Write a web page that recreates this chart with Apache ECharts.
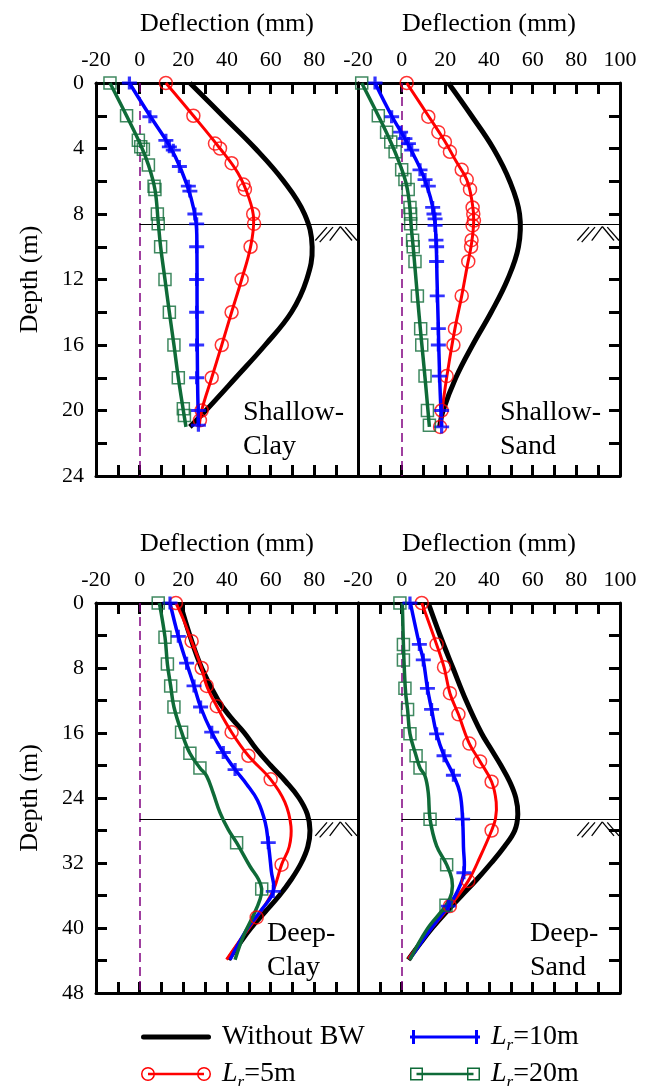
<!DOCTYPE html>
<html><head><meta charset="utf-8">
<script src="https://cdn.jsdelivr.net/npm/echarts@6/dist/echarts.min.js"></script>
<style>html,body{margin:0;padding:0;background:#fff}#c{width:650px;height:1086px}</style>
</head><body><div id="c"></div>
<script>
// ---------- DATA: [deflection (mm), depth (m)] ----------
const SERIES_NAMES = ['Without BW', 'Lr=5m', 'Lr=10m', 'Lr=20m'];
const PANEL_LABELS = ['Shallow-\nClay', 'Shallow-\nSand', 'Deep-\nClay', 'Deep-\nSand'];
const X_TICKS = [-20, 0, 20, 40, 60, 80, 100];
const DEPTH_MAX = [24, 24, 48, 48];
const EXCAVATION_DEPTH = [8.6, 8.6, 26.6, 26.6];

// Shallow-Clay
const SC_black = [[23,0],[38,2],[53,4],[66,6],[75.5,8],[79,10],[76.5,12],[69.5,14],[57.5,16],[44,18],[30.3,20],[23,21]];
const SC_r5_line = [[12,0],[24.6,2],[36.8,4],[45,5.5],[50,7],[52.2,8.3],[50.8,10],[46.7,12],[42.1,14],[37.6,16],[33,18],[28.4,20],[27.3,21]];
const SC_r5_pts = [[12,0],[24.6,2],[34.5,3.7],[36.8,4],[42.1,4.9],[47.5,6.2],[48.2,6.5],[52,8],[52.4,8.6],[50.8,10],[46.7,12],[42.1,14],[37.6,16],[33,18],[28.4,20],[27.6,20.6]];
const SC_b10_line = [[-4.7,0],[4.7,2],[13.5,3.8],[19,5.3],[23.5,7],[25.8,8.5],[26.2,10],[26.3,14],[26.5,18],[26.9,21]];
const SC_b10_pts = [[-4.7,0],[4.7,2.06],[12,3.5],[13.6,3.9],[15.4,4.1],[18.2,5.1],[22.3,6.3],[23,6.6],[25.3,8],[26.1,8.6],[26.1,10],[26.1,12],[26.1,14],[26.1,16],[26.1,18],[26.9,20],[26.9,20.9]];
const SC_g20_line = [[-13.6,0],[-6,2],[0.5,3.8],[4,5],[7,6.5],[8.5,8.5],[9.6,10],[11.6,12],[13.6,14],[15.7,16],[17.7,18],[20,20],[21.2,21]];
const SC_g20_pts = [[-13.6,0],[-6,2],[-0.6,3.5],[0.5,3.9],[1.7,4.05],[4,5],[6.6,6.3],[7,6.5],[8.1,8],[8.5,8.6],[9.6,10],[11.6,12],[13.6,14],[15.7,16],[17.7,18],[20,19.9],[20.5,20.3]];

// Shallow-Sand
const SS_black = [[21.4,0],[32,2],[42,4],[49.5,6],[54,8],[53.5,10],[48.5,12],[41,14],[32.5,16],[24.8,18],[19,20],[17.4,21]];
const SS_r5_line = [[2.3,0],[12.2,2],[19.5,3.5],[25,4.8],[29.8,5.9],[32.3,7.3],[33,8.4],[32,9.8],[30,11.2],[27.5,13],[24.4,15],[21.8,17],[19.5,19],[17.6,21]];
const SS_r5_pts = [[2.3,0],[12.2,2.06],[16.8,3],[19.8,3.6],[22.1,4.2],[27.5,5.3],[29.8,5.9],[31.3,6.5],[32.5,7.6],[32.8,8],[33.1,8.4],[32.5,8.7],[32,9.6],[31.8,10],[30.5,10.9],[27.5,13],[24.4,15],[23.7,16],[20.6,17.9],[18.3,20],[17.6,21]];
const SS_b10_line = [[-12.2,0],[-4.6,2],[1.5,3.4],[5.5,4.4],[10,5.7],[13.2,7],[15,8.2],[15.8,9.8],[16.2,12],[16.8,15],[17.4,18],[18.3,21]];
const SS_b10_pts = [[-12.2,0],[-4.6,2.06],[-0.5,3],[1.5,3.4],[3.1,3.7],[4.6,4.1],[8.4,5.3],[10.7,5.9],[12.2,6.3],[14.2,7.6],[14.8,8],[15.3,8.3],[15.3,8.7],[15.7,9.6],[16,10],[16,10.9],[16.3,13],[16.8,15],[16.8,16],[17.3,17.9],[18.3,20],[18.3,21]];
const SS_g20_line = [[-18.3,0],[-10.7,2],[-5,3.6],[-1,4.9],[2,6.1],[3.6,7.4],[4.4,8.8],[5.4,10.2],[7.2,13],[8.9,15.5],[10.7,18],[12.7,21]];
const SS_g20_pts = [[-18.3,0],[-10.7,2],[-6.9,3],[-5,3.6],[-3,4.2],[0,5.3],[1.5,5.9],[3,6.5],[3.8,7.6],[4.1,8],[4.1,8.6],[5,9.6],[5.3,10],[6.1,10.9],[7.2,13],[8.7,15],[9.2,16],[10.7,17.9],[11.8,20],[12.7,20.9]];

// Deep-Clay
const DC_black = [[18.5,0],[23,4],[28.4,8],[36,12],[41.5,14],[48,16],[53.5,18],[60,20],[67,22],[73,24],[76.8,26],[78,28],[77,30],[74,32],[69.5,34],[64,36],[57.5,38],[51,40],[45.5,42],[40.6,43.9]];
const DC_r5_line = [[16.6,0],[20,2],[23.8,4.7],[28.4,8],[30.7,10.2],[35.3,12.7],[42.1,15.9],[49.8,18.8],[60,21.7],[66.5,24.5],[69.3,27.5],[68.5,30],[65,32.2],[61,35.5],[53.6,38.7],[46,41.5],[39.8,43.9]];
const DC_r5_pts = [[16.6,0],[23.8,4.7],[28.4,8],[30.7,10.2],[35.3,12.7],[42.1,15.9],[49.8,18.8],[60,21.7],[65,32.2],[53.6,38.7]];
const DC_b10_line = [[13.9,0],[17.7,4.1],[21.5,7.4],[24.9,10.2],[27.9,12.8],[33,15.9],[38.3,18.4],[43.7,20.5],[49,22.3],[54,24.3],[57.5,27],[58.9,29.5],[60.3,33],[61.2,35.5],[56,37.7],[49,40.2],[41.4,43.9]];
const DC_b10_pts = [[13.9,0],[17.7,4.1],[21.5,7.4],[24.9,10.2],[27.9,12.8],[33,15.9],[38.3,18.4],[43.7,20.5],[58.9,29.5],[61.2,35.5]];
const DC_g20_line = [[9,0],[11.6,4.2],[12.7,7.5],[14.2,10.2],[15.7,12.8],[19.2,15.9],[23,18.5],[27.6,20.3],[30.7,21.3],[33.7,23.4],[36.8,25.8],[40.6,27.9],[44.4,29.5],[50.5,32.4],[54.4,34],[55.9,35.2],[55.1,36.5],[52,38.5],[47.5,41],[43.7,43.9]];
const DC_g20_pts = [[8.5,0],[11.6,4.2],[12.7,7.5],[14.2,10.2],[15.7,12.8],[19.2,15.9],[23,18.5],[27.6,20.3],[44.4,29.5],[55.9,35.2]];

// Deep-Sand
const DS_black = [[12.2,0],[17.6,4],[23.5,8],[29.5,12],[36.5,16],[41,18],[45.5,20],[49.5,22],[52.3,24],[53.2,26],[51.8,28],[47,30],[41,32],[34.5,34],[27.5,36],[20.5,38],[14,40],[8.2,42],[3,43.9]];
const DS_r5_line = [[9.2,0],[16,5.1],[19.4,7.9],[22.1,11.1],[26,13.7],[31,17.3],[35.9,19.5],[41.2,22],[43.3,24.5],[43,26.5],[41.2,28],[36,31.2],[30.5,34.2],[22.1,37.3],[12,40.6],[3,43.8]];
const DS_r5_pts = [[9.2,0],[16,5.1],[19.4,7.9],[22.1,11.1],[26,13.7],[31,17.3],[35.9,19.5],[41.2,22],[41.2,28],[30.5,34.2],[22.1,37.3]];
const DS_b10_line = [[4,0],[8.1,5.1],[9.9,7],[11.8,10.5],[13.7,13.1],[16,16.1],[19.4,18.8],[23.7,21.2],[26.7,23.4],[27.9,26.6],[28.3,30],[28.5,33.2],[25.5,35.5],[21.4,37.3],[12,40.6],[3.8,43.8]];
const DS_b10_pts = [[3.8,0],[8.1,5.1],[9.9,7],[11.8,10.5],[13.7,13.1],[16,16.1],[19.4,18.8],[23.7,21.2],[27.9,26.6],[28.5,33.2],[21.4,37.3]];
const DS_g20_line = [[0.3,0],[0.8,5.1],[1.2,8],[1.8,11],[2.7,13.1],[3.8,16.1],[6.6,18.8],[8.4,20.3],[10.7,21.3],[12.2,23.4],[13,26.6],[16,29.9],[20.6,32.2],[23,34],[22.9,35.7],[20.3,37.2],[11.5,40.2],[3.8,43.9]];
const DS_g20_pts = [[-0.8,0],[0.8,5.1],[0.8,7],[1.5,10.5],[2.7,13.1],[3.8,16.1],[6.6,18.8],[8.4,20.3],[13,26.6],[20.6,32.2],[20.3,37.2]];

// ---------- STYLE / LAYOUT ----------
const FONT = 'Liberation Serif';
const C_BLACK = '#000000', C_RED = '#ff0000', C_BLUE = '#0000ff', C_GREEN = '#0f6b38', C_PURPLE = '#800080';
const grids = [
  {left: 96, top: 83, width: 262, height: 393},
  {left: 358, top: 83, width: 262, height: 393},
  {left: 96, top: 603, width: 262, height: 390},
  {left: 358, top: 603, width: 262, height: 390}
];
const panels = [
  {black: SC_black, r: [SC_r5_line, SC_r5_pts], b: [SC_b10_line, SC_b10_pts], g: [SC_g20_line, SC_g20_pts]},
  {black: SS_black, r: [SS_r5_line, SS_r5_pts], b: [SS_b10_line, SS_b10_pts], g: [SS_g20_line, SS_g20_pts]},
  {black: DC_black, r: [DC_r5_line, DC_r5_pts], b: [DC_b10_line, DC_b10_pts], g: [DC_g20_line, DC_g20_pts]},
  {black: DS_black, r: [DS_r5_line, DS_r5_pts], b: [DS_b10_line, DS_b10_pts], g: [DS_g20_line, DS_g20_pts]}
];
const labelPos = [[243, 396], [500, 396], [267, 917], [530, 917]];
const legendPos = [[141, 1023], [141, 1060], [410, 1023], [410, 1060]];

const axisLineStyle = {show: true, onZero: false, lineStyle: {color: C_BLACK, width: 3}};
const tickOn = {show: true, inside: true, length: 11, lineStyle: {color: C_BLACK, width: 3}};

const xAxes = [], yAxes = [], series = [];
grids.forEach((g, i) => {
  const isLeft = (i % 2 === 0);
  const ymax = DEPTH_MAX[i];
  const yStep = ymax / 12;
  const labelStep = ymax / 6;
  xAxes.push({
    gridIndex: i, type: 'value', position: 'top', min: X_TICKS[0], max: X_TICKS[X_TICKS.length - 1], interval: 10,
    axisLine: axisLineStyle, axisTick: tickOn, splitLine: {show: false},
    axisLabel: {show: true, margin: 12, color: C_BLACK, fontFamily: FONT, fontSize: 22, showMinLabel: true, showMaxLabel: true,
      formatter: v => (X_TICKS.indexOf(v) >= 0 && !(isLeft && v === 100)) ? String(v) : ''},
    name: 'Deflection (mm)', nameLocation: 'middle', nameGap: 46, nameMoveOverlap: false,
    nameTextStyle: {color: C_BLACK, fontFamily: FONT, fontSize: 26}
  });
  yAxes.push({
    gridIndex: i, type: 'value', position: isLeft ? 'left' : 'right', inverse: true, min: 0, max: ymax, interval: yStep,
    axisLine: axisLineStyle, axisTick: tickOn, splitLine: {show: false},
    axisLabel: isLeft ? {show: true, margin: 12, color: C_BLACK, fontFamily: FONT, fontSize: 22, showMinLabel: true, showMaxLabel: true,
      formatter: v => (Math.abs(v % labelStep) < 1e-9) ? String(v) : ''} : {show: false},
    name: isLeft ? 'Depth (m)' : '', nameLocation: 'middle', nameGap: 53, nameMoveOverlap: false,
    nameTextStyle: {color: C_BLACK, fontFamily: FONT, fontSize: 26}
  });
});
grids.forEach((g, i) => {
  const isLeft = (i % 2 === 0);
  const ymax = DEPTH_MAX[i];
  xAxes.push({
    gridIndex: i, type: 'value', position: 'bottom', min: X_TICKS[0], max: X_TICKS[X_TICKS.length - 1], interval: 10,
    axisLine: axisLineStyle, axisTick: tickOn, axisLabel: {show: false}, splitLine: {show: false}
  });
  yAxes.push({
    gridIndex: i, type: 'value', position: isLeft ? 'right' : 'left', inverse: true, min: 0, max: ymax, interval: ymax / 12,
    axisLine: axisLineStyle, axisTick: {show: false}, axisLabel: {show: false}, splitLine: {show: false}
  });
});

const HATCH = [[-42.7,16.7,-31,3.3],[-38.3,18.3,-25,3.3],[-28.3,16.7,-17.7,2.7],[-17.7,2.7,-6,16.7],[-12.7,3.3,-1,16.7]];

// smooth curve drawn through the data points, positioned by the axes (api.coord)
function curveSeries(name, pts, grid, color, width, z) {
  return {
    type: 'custom', name: name, data: pts, xAxisIndex: grid, yAxisIndex: grid, z: z,
    silent: true, animation: false, clip: false, itemStyle: {color: color},
    renderItem: (params, api) => {
      if (params.dataIndex !== 0) return null;
      const points = pts.map(q => api.coord(q));
      return {type: 'polyline', shape: {points: points, smooth: 0.4},
        style: {stroke: color, lineWidth: width, fill: 'none', lineJoin: 'round'}};
    }
  };
}

panels.forEach((p, i) => {
  const common = {xAxisIndex: i, yAxisIndex: i, animation: false, silent: true};
  series.push(curveSeries(SERIES_NAMES[0], p.black, i, C_BLACK, 5, 3));
  const defs = [
    {name: SERIES_NAMES[1], d: p.r, color: C_RED, width: 3, symbol: 'circle', size: 13, fill: 'rgba(0,0,0,0)', bw: 1.5},
    {name: SERIES_NAMES[2], d: p.b, color: C_BLUE, width: 3.5, symbol: 'path://M0 5.5H14V8.5H0Z M5.5 0H8.5V14H5.5Z', size: [15, 13], fill: C_BLUE, bw: 0},
    {name: SERIES_NAMES[3], d: p.g, color: C_GREEN, width: 3.5, symbol: 'rect', size: 12, fill: 'rgba(0,0,0,0)', bw: 1.5}
  ];
  defs.forEach((d, k) => {
    series.push(curveSeries(d.name, d.d[0], i, d.color, d.width, 4 + k));
  });
  defs.forEach((d, k) => {
    const s = Object.assign({
      type: 'scatter', name: d.name, data: d.d[1], symbol: d.symbol, symbolSize: d.size,
      itemStyle: {color: d.fill, borderColor: d.color, borderWidth: d.bw}, z: 8 + k
    }, common);
    if (k === 0) {
      s.markLine = {silent: true, symbol: ['none', 'none'], label: {show: false}, animation: false, z: 1,
        data: [
          {xAxis: 0, lineStyle: {color: C_PURPLE, type: [9, 5], width: 1.5}},
          [{coord: [0, EXCAVATION_DEPTH[i]], lineStyle: {color: C_BLACK, type: 'solid', width: 1}}, {coord: [100, EXCAVATION_DEPTH[i]]}]
        ]};
    }
    series.push(s);
  });
  series.push(Object.assign({
    type: 'custom', data: [[100, EXCAVATION_DEPTH[i]]], clip: false, z: 2,
    renderItem: (params, api) => {
      const pt = api.coord([api.value(0), api.value(1)]);
      return {type: 'group', children: HATCH.map(s => ({
        type: 'line', shape: {x1: pt[0] + s[0], y1: pt[1] + s[1], x2: pt[0] + s[2], y2: pt[1] + s[3]},
        style: {stroke: C_BLACK, lineWidth: 1.3}
      }))};
    }
  }, common));
});

const ICONS = {
  'Without BW': 'path://M2.5 4.5H67.5A2.5 2.5 0 0 1 67.5 9.5H2.5A2.5 2.5 0 0 1 2.5 4.5Z',
  'Lr=5m': 'path://M0 7A7 7 0 1 1 14 7A7 7 0 1 1 0 7Z M1.5 7A5.5 5.5 0 1 0 12.5 7A5.5 5.5 0 1 0 1.5 7Z M56 7A7 7 0 1 1 70 7A7 7 0 1 1 56 7Z M57.5 7A5.5 5.5 0 1 0 68.5 7A5.5 5.5 0 1 0 57.5 7Z M7 5.75H63V8.25H7Z',
  'Lr=10m': 'path://M0 5.5H70V8.5H0Z M2 0H5V14H2Z M65 0H68V14H65Z',
  'Lr=20m': 'path://M0 0.5H13V13.5H0Z M1.5 2V12H11.5V2Z M57 0.5H70V13.5H57Z M58.5 2V12H68.5V2Z M6.5 5.75H63.5V8.25H6.5Z'
};
const legendText = {
  color: C_BLACK, fontFamily: FONT, fontSize: 28, padding: [0, 0, 0, 6],
  rich: {
    i: {fontFamily: FONT, fontSize: 28, lineHeight: 28, fontStyle: 'italic', color: C_BLACK, verticalAlign: 'top'},
    s: {fontFamily: FONT, fontSize: 17, lineHeight: 17, fontStyle: 'italic', color: C_BLACK, verticalAlign: 'top', padding: [14, 0, 0, 0]},
    n: {fontFamily: FONT, fontSize: 28, lineHeight: 28, color: C_BLACK, verticalAlign: 'top'}
  }
};
const legendFmt = name => name.indexOf('Lr=') === 0 ? '{i|L}{s|r}{n|' + name.slice(2) + '}' : name;
function makeLegend(name, pos) {
  return {
    orient: 'horizontal', left: pos[0], top: pos[1], padding: 0, itemWidth: 70, itemHeight: 14,
    selectedMode: false, textStyle: legendText, formatter: legendFmt,
    itemStyle: {borderWidth: 0},
    data: [{name: name, icon: ICONS[name]}]
  };
}

const chart = echarts.init(document.getElementById('c'), null, {renderer: 'canvas', width: 650, height: 1086});
chart.setOption({
  backgroundColor: '#ffffff',
  animation: false,
  grid: grids.map(g => Object.assign({outerBoundsMode: 'none', containLabel: false}, g)),
  xAxis: xAxes,
  yAxis: yAxes,
  legend: SERIES_NAMES.map((n, i) => makeLegend(n, legendPos[i])),
  graphic: PANEL_LABELS.map((t, i) => ({
    type: 'text', left: labelPos[i][0], top: labelPos[i][1], silent: true,
    style: {text: t, font: '28px "' + FONT + '"', lineHeight: 34, fill: C_BLACK}
  })),
  series: series
});
</script></body></html>
